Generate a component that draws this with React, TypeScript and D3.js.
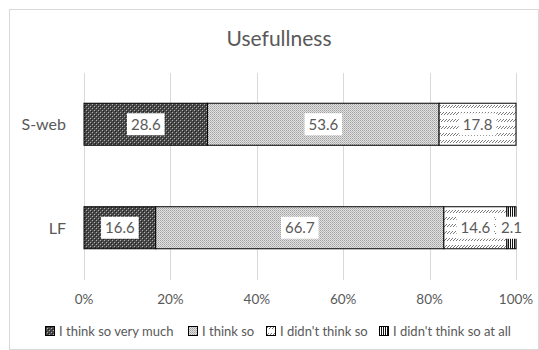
import * as d3 from "d3";

const categories = ["S-web", "LF"];
const seriesNames = [
  "I think so very much",
  "I think so",
  "I didn't think so",
  "I didn't think so at all",
];
const sWebValues = [28.6, 53.6, 17.8, 0];
const lfValues = [16.6, 66.7, 14.6, 2.1];
const ticks = [0, 20, 40, 60, 80, 100];

const FONT = "Lato, 'Noto Sans', sans-serif";
const TEXT = "#595959";
const PATTERNS = ["p-very", "p-think", "p-didnt", "p-never"];
const LEGEND_X = [45, 188, 266, 379];

export default function App() {
  const rows = [sWebValues, lfValues];
  const x = d3.scaleLinear().domain([0, 100]).range([84, 516]);
  const y = d3
    .scaleBand<string>()
    .domain(categories)
    .range([72.5, 279.5])
    .paddingInner(0.594)
    .paddingOuter(0.297);

  const stacked = rows.map((vals) => {
    let acc = 0;
    return vals.map((v) => {
      const s = acc;
      acc += v;
      return { start: s, end: acc, value: v };
    });
  });

  return (
    <svg
      width={539}
      height={350}
      style={{ position: "absolute", left: 0, top: 0, background: "#fff" }}
    >
      <defs>
        <pattern id="p-very" width={4} height={4} patternUnits="userSpaceOnUse">
          <rect width={4} height={4} fill="#4a4a4a" />
          <rect x={0} y={0} width={1} height={1} fill="#b0b0b0" />
          <rect x={2} y={2} width={1} height={1} fill="#b0b0b0" />
          <rect x={1} y={1} width={1} height={1} fill="#202020" />
          <rect x={3} y={3} width={1} height={1} fill="#202020" />
        </pattern>
        <pattern id="p-think" width={2} height={2} patternUnits="userSpaceOnUse">
          <rect width={2} height={2} fill="#e2e2e2" />
          <rect x={0} y={0} width={1} height={1} fill="#a0a0a0" />
          <rect x={1} y={1} width={1} height={1} fill="#b8b8b8" />
        </pattern>
        {/* rows of short dashed upward diagonals */}
        <pattern id="p-didnt" width={3} height={7} patternUnits="userSpaceOnUse">
          <rect width={3} height={7} fill="#fff" />
          <rect x={2} y={0} width={1} height={1} fill="#7a7a7a" />
          <rect x={1} y={1} width={1} height={1} fill="#7a7a7a" />
          <rect x={0} y={2} width={1} height={1} fill="#7a7a7a" />
        </pattern>
        <pattern id="p-never" width={2} height={2} patternUnits="userSpaceOnUse">
          <rect width={2} height={2} fill="#fff" />
          <rect x={0} y={0} width={1} height={2} fill="#111" />
        </pattern>
      </defs>

      <rect x={9.5} y={9.5} width={529} height={340} fill="#fff" stroke="#d9d9d9" />

      <text
        x={279}
        y={46}
        textAnchor="middle"
        fontFamily={FONT}
        fontSize={21}
        fill={TEXT}
      >
        Usefullness
      </text>

      {ticks.map((t) => (
        <g key={t}>
          <line
            x1={Math.round(x(t)) + 0.5}
            x2={Math.round(x(t)) + 0.5}
            y1={73}
            y2={280}
            stroke="#d9d9d9"
          />
          <text
            x={x(t)}
            y={304}
            textAnchor="middle"
            fontFamily={FONT}
            fontSize={13.5}
            fill={TEXT}
          >
            {t}%
          </text>
        </g>
      ))}

      {categories.map((c, ci) => (
        <g key={c}>
          <text
            x={66}
            y={y(c)! + y.bandwidth() / 2 + 6}
            textAnchor="end"
            fontFamily={FONT}
            fontSize={16}
            fill={TEXT}
          >
            {c}
          </text>
          {stacked[ci].map((seg, si) =>
            seg.value > 0 ? (
              <rect
                key={si}
                x={x(seg.start)}
                y={y(c)!}
                width={x(seg.end) - x(seg.start)}
                height={y.bandwidth()}
                fill={`url(#${PATTERNS[si]})`}
                stroke="#000"
                strokeWidth={1}
              />
            ) : null,
          )}
          {stacked[ci].map((seg, si) => {
            if (seg.value <= 0) return null;
            const label = seg.value.toFixed(1);
            const w = label.length * 6.9 + 10;
            const cx = (x(seg.start) + x(seg.end)) / 2;
            const cy = y(c)! + y.bandwidth() / 2;
            return (
              <g key={`l${si}`}>
                <rect x={cx - w / 2} y={cy - 11} width={w} height={22} fill="#fff" />
                <text
                  x={cx}
                  y={cy + 5.5}
                  textAnchor="middle"
                  fontFamily={FONT}
                  fontSize={15}
                  fill={TEXT}
                >
                  {label}
                </text>
              </g>
            );
          })}
        </g>
      ))}

      {seriesNames.map((name, i) => (
        <g key={name} transform={`translate(${LEGEND_X[i]},326)`}>
          <rect
            x={0.5}
            y={0.5}
            width={9}
            height={9}
            fill={`url(#${PATTERNS[i]})`}
            stroke="#000"
          />
          <text x={14} y={9.5} fontFamily={FONT} fontSize={13} fill={TEXT}>
            {name}
          </text>
        </g>
      ))}
    </svg>
  );
}
